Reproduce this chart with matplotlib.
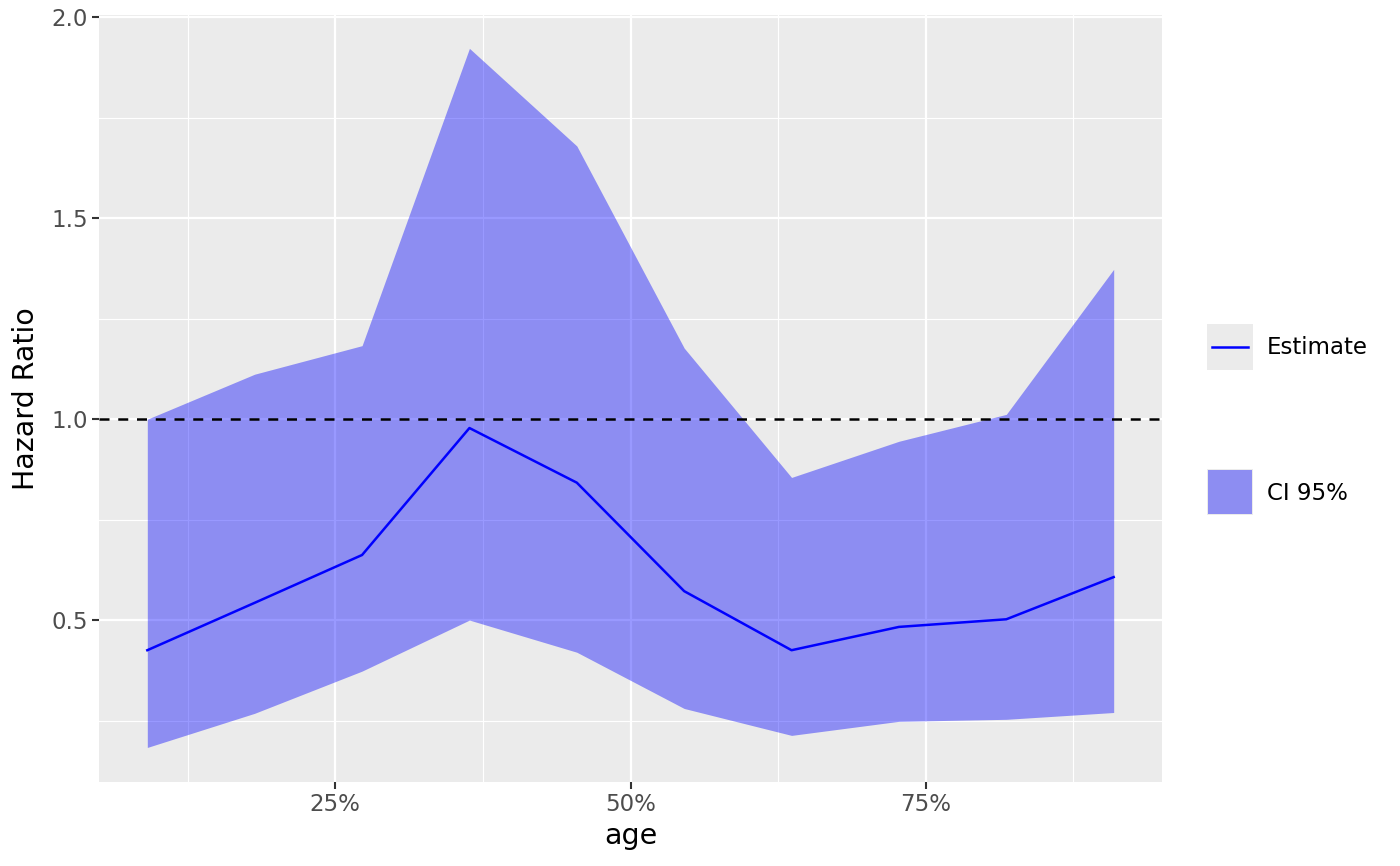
import matplotlib
matplotlib.use("Agg")
import matplotlib.pyplot as plt
from matplotlib.ticker import FixedLocator, PercentFormatter
from matplotlib.patches import Rectangle
from matplotlib.lines import Line2D

# age quantiles (fraction) and hazard ratio estimates
age_q = [1/11, 2/11, 3/11, 4/11, 5/11, 6/11, 7/11, 8/11, 9/11, 10/11]
estimate = [0.425, 0.543, 0.662, 0.978, 0.842, 0.572, 0.425, 0.483, 0.502, 0.607]
ci_upper = [1.0, 1.112, 1.183, 1.923, 1.680, 1.177, 0.855, 0.945, 1.012, 1.373]
ci_lower = [0.183, 0.268, 0.373, 0.500, 0.420, 0.280, 0.213, 0.248, 0.253, 0.270]

x_major = [0.25, 0.50, 0.75]
x_minor = [0.125, 0.375, 0.625, 0.875]
y_major = [0.5, 1.0, 1.5, 2.0]
y_minor = [0.25, 0.75, 1.25, 1.75]

fig = plt.figure(figsize=(14, 8.66), dpi=100)
ax = fig.add_axes([99/1400, 1-782/866, (1162-99)/1400, (782-15)/866])
ax.set_facecolor("#ebebeb")
for s in ax.spines.values():
    s.set_visible(False)

ax.fill_between(age_q, ci_lower, ci_upper, color="blue", alpha=0.4, linewidth=0, zorder=3)
ax.plot(age_q, estimate, color="blue", lw=1.8, zorder=4)
ax.axhline(1.0, color="black", lw=1.8, linestyle=(0, (4, 3.5)), zorder=5)

ax.set_xlim(0.05, 0.95)
ax.set_ylim(0.097, 2.006)
ax.xaxis.set_major_locator(FixedLocator(x_major))
ax.xaxis.set_minor_locator(FixedLocator(x_minor))
ax.yaxis.set_major_locator(FixedLocator(y_major))
ax.yaxis.set_minor_locator(FixedLocator(y_minor))
ax.xaxis.set_major_formatter(PercentFormatter(1.0, decimals=0))
ax.yaxis.set_major_formatter(lambda v, p: f"{v:.1f}")

ax.grid(which="major", color="white", lw=1.6, zorder=1)
ax.grid(which="minor", color="white", lw=0.8, zorder=1)
ax.set_axisbelow(True)
ax.tick_params(which="major", length=5, width=1.5, color="#333333",
               labelsize=16.5, labelcolor="#4d4d4d", pad=3)
ax.tick_params(which="minor", length=0)

ax.set_xlabel("age", fontsize=20.5, labelpad=4)
ax.set_ylabel("Hazard Ratio", fontsize=20.5, labelpad=8)

# legend keys drawn in figure pixels
W, H = 1400, 866
def key_box(y_top):
    fig.patches.append(Rectangle((1207/W, 1-(y_top+46)/H), 46/W, 46/H,
                                 transform=fig.transFigure, facecolor="#ebebeb",
                                 edgecolor="none"))

key_box(324)
fig.lines.append(Line2D([1212/W, 1248/W], [1-347/H, 1-347/H], transform=fig.transFigure,
                        color="blue", lw=1.8))
fig.text(1267/W, 1-347/H, "Estimate", fontsize=16.5, va="center", ha="left")

key_box(469)
fig.patches.append(Rectangle((1208/W, 1-(470+44)/H), 44/W, 44/H,
                             transform=fig.transFigure, facecolor="blue", alpha=0.4,
                             edgecolor="none"))
fig.text(1267/W, 1-493/H, "CI 95%", fontsize=16.5, va="center", ha="left")

fig.savefig("out.png", dpi=100)
